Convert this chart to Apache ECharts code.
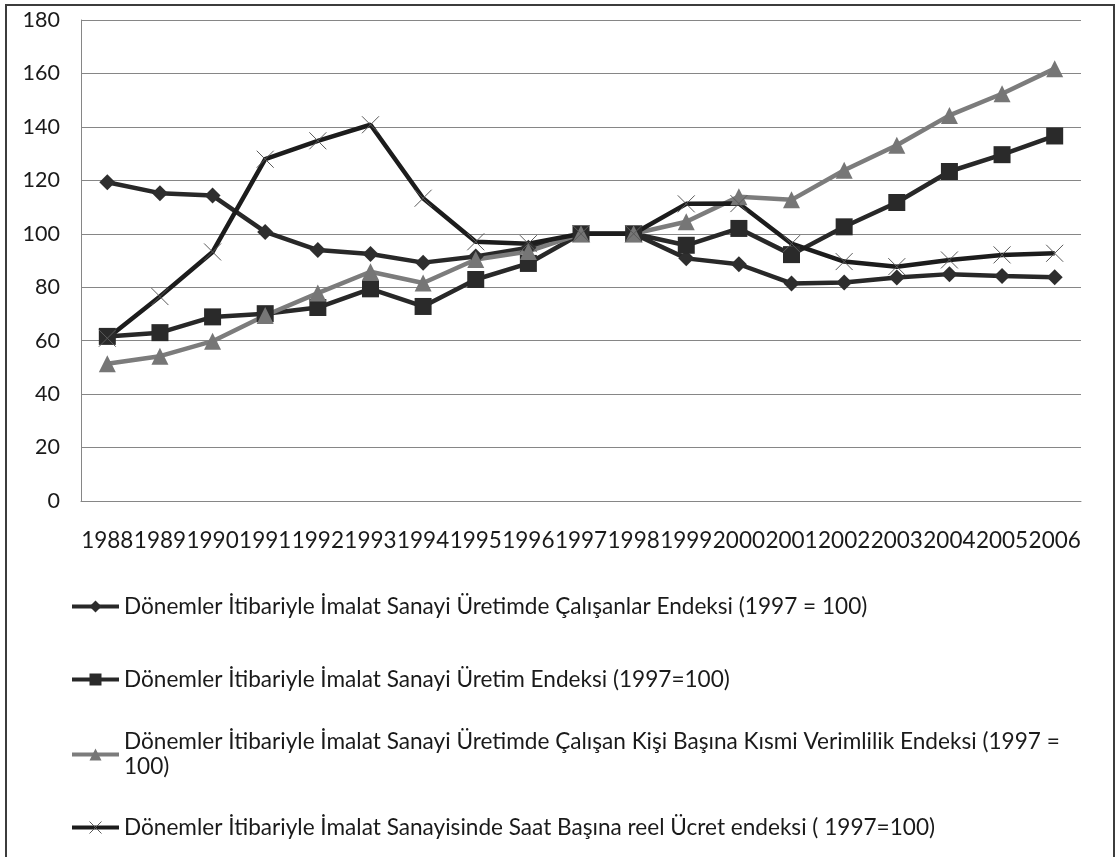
<!DOCTYPE html>
<html>
<head>
<meta charset="utf-8">
<script src="https://cdn.jsdelivr.net/npm/echarts@6/dist/echarts.min.js"></script>
<style>
  html, body { margin: 0; padding: 0; background: #fff; }
  #chart { width: 1119px; height: 857px; }
</style>
</head>
<body>
<div id="chart"></div>
<script>
// Years on the category axis
const years = ['1988','1989','1990','1991','1992','1993','1994','1995','1996','1997',
               '1998','1999','2000','2001','2002','2003','2004','2005','2006'];

// Series names
const nameEmployment = 'Dönemler İtibariyle İmalat Sanayi Üretimde Çalışanlar Endeksi (1997 = 100)';
const nameProduction = 'Dönemler İtibariyle İmalat Sanayi Üretim Endeksi (1997=100)';
const nameProductivity = 'Dönemler İtibariyle İmalat Sanayi Üretimde Çalışan Kişi Başına Kısmi Verimlilik Endeksi (1997 = 100)';
const nameWage = 'Dönemler İtibariyle İmalat Sanayisinde Saat Başına reel Ücret endeksi ( 1997=100)';

// Index values (1997 = 100)
const employment = [119.3, 115.2, 114.3, 100.7, 93.9, 92.4, 89.2, 91.5, 94.8, 100,
                    100, 90.8, 88.6, 81.4, 81.8, 83.6, 84.9, 84.2, 83.7];
const production = [61.6, 63.0, 68.9, 70.1, 72.4, 79.4, 72.8, 82.9, 88.9, 100,
                    100, 95.7, 102.0, 92.2, 102.6, 111.7, 123.3, 129.6, 136.6];
const productivity = [51.4, 54.2, 59.8, 69.4, 77.8, 85.8, 81.6, 90.4, 93.4, 100,
                      100, 104.5, 113.9, 112.7, 123.8, 133.1, 144.3, 152.4, 161.8];
const wage = [60.9, 76.5, 93.2, 127.9, 134.8, 140.8, 113.3, 97.0, 96.3, 100,
              100, 111.2, 111.3, 96.3, 89.6, 87.7, 90.2, 92.1, 92.7];

// Y axis ticks
const yMin = 0, yMax = 180, yStep = 20;

const FONT = 'Lato, "Open Sans", sans-serif';
const DARK = '#282828';
const GREY = '#7c7c7c';
const GRID = '#868686';
const CROSS = 'path://M0,0L10,10M10,0L0,10';
const LEGEND_TEXT = { fontFamily: FONT, fontSize: 22.6, color: '#1a1a1a', lineHeight: 25 };

const chart = echarts.init(document.getElementById('chart'), null, { renderer: 'canvas' });

function legendAt(top, name, extra) {
  return Object.assign({
    orient: 'vertical',
    left: 70,
    top: top,
    padding: 0,
    itemWidth: 47,
    itemHeight: 15,
    itemGap: 0,
    data: [name],
    lineStyle: { width: 4 },
    textStyle: LEGEND_TEXT
  }, extra || {});
}

chart.setOption({
  animation: false,
  backgroundColor: '#fff',
  textStyle: { fontFamily: FONT },
  grid: { left: 81, right: 38, top: 20, bottom: 356, containLabel: false },
  xAxis: {
    type: 'category',
    data: years,
    boundaryGap: true,
    axisLine: { show: true, lineStyle: { color: GRID, width: 1 } },
    axisTick: { show: false },
    axisLabel: { interval: 0, margin: 28, fontFamily: FONT, fontSize: 22.5, color: '#1a1a1a', hideOverlap: false }
  },
  yAxis: {
    type: 'value',
    min: yMin,
    max: yMax,
    interval: yStep,
    axisLine: { show: true, lineStyle: { color: GRID, width: 1 } },
    axisTick: { show: false },
    splitLine: { show: true, lineStyle: { color: GRID, width: 1 } },
    axisLabel: { margin: 21, fontFamily: FONT, fontSize: 21.5, color: '#1a1a1a' }
  },
  legend: [
    legendAt(594, nameEmployment),
    legendAt(667, nameProduction),
    legendAt(717, nameProductivity, {
      formatter: n => n.replace('(1997 = 100)', '(1997 =\n100)'),
      textStyle: Object.assign({}, LEGEND_TEXT, { padding: [25, 0, 0, 0] })
    }),
    legendAt(815, nameWage, { itemStyle: { borderWidth: 1 } })
  ],
  graphic: [{
    type: 'rect',
    shape: { x: 6, y: 5, width: 1108, height: 900 },
    style: { fill: 'none', stroke: '#3c3c3c', lineWidth: 2 },
    silent: true
  }],
  series: [
    {
      name: nameEmployment,
      type: 'line',
      data: employment,
      symbol: 'diamond',
      symbolSize: 16,
      showAllSymbol: true,
      lineStyle: { color: DARK, width: 4.5 },
      itemStyle: { color: '#2e2e2e' }
    },
    {
      name: nameProduction,
      type: 'line',
      data: production,
      symbol: 'rect',
      symbolSize: 17,
      showAllSymbol: true,
      lineStyle: { color: DARK, width: 4.5 },
      itemStyle: { color: '#2a2a2a' }
    },
    {
      name: nameProductivity,
      type: 'line',
      data: productivity,
      symbol: 'triangle',
      symbolSize: 17,
      showAllSymbol: true,
      lineStyle: { color: GREY, width: 4.5 },
      itemStyle: { color: '#767676' }
    },
    {
      name: nameWage,
      type: 'line',
      data: wage,
      symbol: CROSS,
      symbolSize: 17,
      showAllSymbol: true,
      lineStyle: { color: '#1c1c1c', width: 4.5 },
      itemStyle: { color: 'rgba(0,0,0,0)', borderColor: '#5a5a5a', borderWidth: 1 }
    }
  ]
});
</script>
</body>
</html>
